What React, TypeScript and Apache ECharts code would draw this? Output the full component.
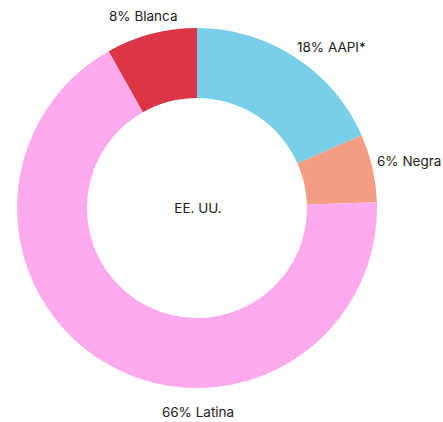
import React, { useEffect, useRef } from "react";
import * as echarts from "echarts";

const categories = ["AAPI*", "Negra", "Latina", "Blanca"];
const shares = [18, 6, 66, 8];
const colors = ["#78d0e8", "#f59d82", "#ffaaee", "#dc3545"];
const centerLabel = "EE. UU.";

// label anchor positions (layout only)
const labelAnchors = [
  { x: 297, y: 47, align: "left" },
  { x: 377, y: 161, align: "left" },
  { x: 198, y: 412, align: "center" },
  { x: 109, y: 16, align: "left" },
];

export default function App() {
  const ref = useRef<HTMLDivElement>(null);
  useEffect(() => {
    const chart = echarts.init(ref.current!, null, { renderer: "svg" });
    chart.setOption({
      animation: false,
      backgroundColor: "#ffffff",
      textStyle: { fontFamily: "Inter, 'Noto Sans', sans-serif" },
      graphic: [
        {
          type: "text",
          x: 198,
          y: 208,
          style: {
            text: centerLabel,
            fill: "#222",
            font: "13.5px Inter, 'Noto Sans', sans-serif",
            align: "center",
            verticalAlign: "middle",
          },
        },
      ],
      series: [
        {
          type: "pie",
          center: [197, 208],
          radius: [110, 180],
          startAngle: 90,
          clockwise: true,
          avoidLabelOverlap: false,
          itemStyle: { borderColor: "#fff", borderWidth: 0 },
          label: {
            show: true,
            position: "outside",
            formatter: (p: any) => `${p.value}% ${p.name}`,
            color: "#222",
            fontSize: 13.5,
            fontFamily: "Inter, 'Noto Sans', sans-serif",
          },
          labelLine: { show: false },
          labelLayout: (params: any) => {
            const a = labelAnchors[params.dataIndex];
            return { x: a.x, y: a.y, align: a.align, verticalAlign: "middle" };
          },
          emphasis: { disabled: true },
          data: categories.map((name, i) => ({
            name,
            value: shares[i],
            itemStyle: { color: colors[i] },
          })),
        },
      ],
    });
    return () => chart.dispose();
  }, []);
  return (
    <div
      ref={ref}
      style={{ position: "fixed", left: 0, top: 0, width: 443, height: 422 }}
    />
  );
}
